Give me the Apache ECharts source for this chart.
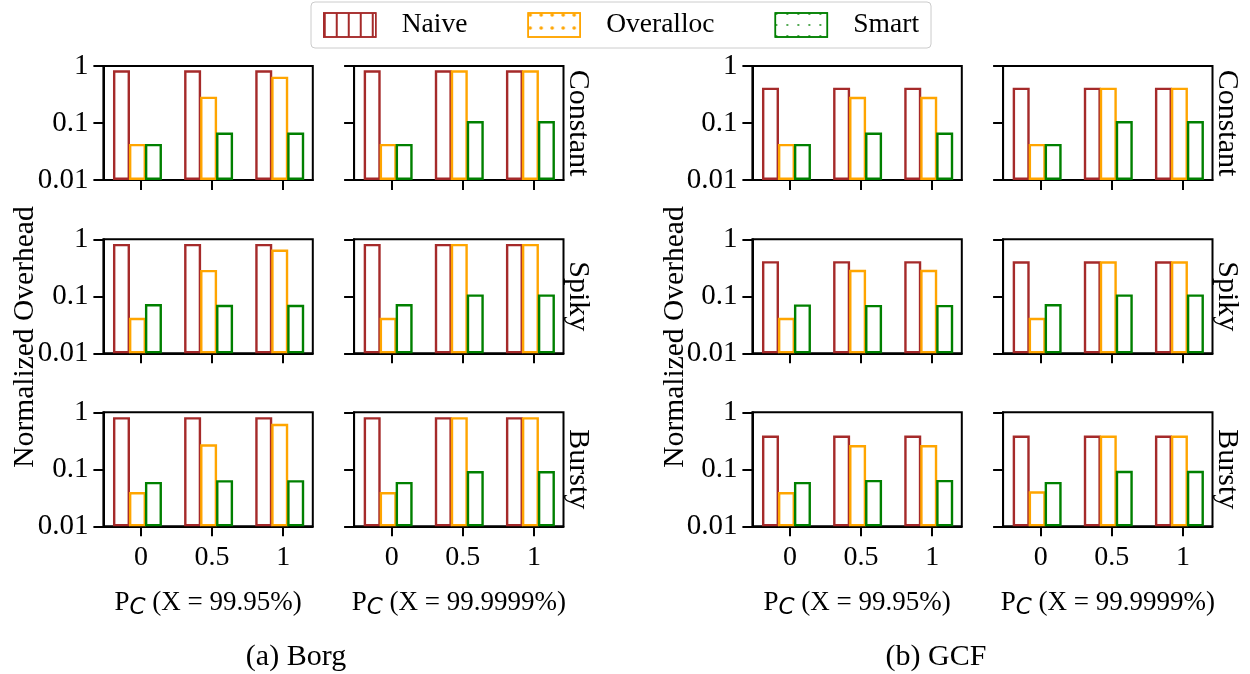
<!DOCTYPE html>
<html>
<head>
<meta charset="utf-8">
<script src="https://cdn.jsdelivr.net/npm/echarts@6/dist/echarts.min.js"></script>
<style>
html,body{margin:0;padding:0;background:#fff;}
#chart{width:1250px;height:674px;}
</style>
</head>
<body>
<div id="chart"></div>
<script>
// ---- data ----
const pcValues = [0, 0.5, 1];
const pcLabels = ['0', '0.5', '1'];
const yTicks = [0.01, 0.1, 1];
const yTickLabels = ['0.01', '0.1', '1'];
const workloads = ['Constant', 'Spiky', 'Bursty'];
const seriesNames = ['Naive', 'Overalloc', 'Smart'];
const panelTitles = ['(X = 99.95%)', '(X = 99.9999%)', '(X = 99.95%)', '(X = 99.9999%)'];
const captions = ['(a) Borg', '(b) GCF'];

// rows: Constant, Spiky, Bursty ; columns: P_C = 0, 0.5, 1
// Borg, X = 99.95%
const borg9995Naive = [[0.84, 0.84, 0.84], [0.83, 0.83, 0.83], [0.82, 0.82, 0.82]];
const borg9995Over  = [[0.043, 0.29, 0.65], [0.042, 0.29, 0.66], [0.040, 0.274, 0.63]];
const borg9995Smart = [[0.043, 0.068, 0.068], [0.073, 0.071, 0.071], [0.060, 0.0645, 0.0645]];
// Borg, X = 99.9999%
const borg999999Naive = [[0.84, 0.84, 0.84], [0.83, 0.83, 0.83], [0.82, 0.82, 0.82]];
const borg999999Over  = [[0.043, 0.84, 0.84], [0.042, 0.83, 0.83], [0.040, 0.82, 0.82]];
const borg999999Smart = [[0.043, 0.108, 0.108], [0.073, 0.108, 0.108], [0.060, 0.093, 0.093]];
// GCF, X = 99.95%
const gcf9995Naive = [[0.416, 0.416, 0.416], [0.414, 0.414, 0.414], [0.39, 0.39, 0.39]];
const gcf9995Over  = [[0.043, 0.289, 0.289], [0.042, 0.291, 0.291], [0.040, 0.267, 0.267]];
const gcf9995Smart = [[0.043, 0.068, 0.068], [0.072, 0.0705, 0.0705], [0.060, 0.065, 0.065]];
// GCF, X = 99.9999%
const gcf999999Naive = [[0.416, 0.416, 0.416], [0.41, 0.41, 0.41], [0.39, 0.39, 0.39]];
const gcf999999Over  = [[0.043, 0.416, 0.416], [0.042, 0.41, 0.41], [0.041, 0.39, 0.39]];
const gcf999999Smart = [[0.043, 0.108, 0.108], [0.073, 0.108, 0.108], [0.060, 0.094, 0.094]];

const panels = [
  [borg9995Naive, borg9995Over, borg9995Smart],
  [borg999999Naive, borg999999Over, borg999999Smart],
  [gcf9995Naive, gcf9995Over, gcf9995Smart],
  [gcf999999Naive, gcf999999Over, gcf999999Smart]
];

// ---- layout / style ----
const colors = ['#A52A2A', '#FFA500', '#008000'];
const FONT = 'Liberation Serif';
const FS = 29;
const colLeft = [103.4, 354.1, 752.4, 1003.1];
const colWidth = 209.4;
const rowTop = [66, 239.3, 412.3];
const rowHeight = 114;

const grids = [], xAxes = [], yAxes = [], series = [], graphics = [];
const fmtX = v => { const i = pcValues.indexOf(v); return i >= 0 ? pcLabels[i] : ''; };
const fmtY = v => {
  for (let i = 0; i < yTicks.length; i++) if (Math.abs(v - yTicks[i]) / yTicks[i] < 1e-6) return yTickLabels[i];
  return '';
};

for (let r = 0; r < 3; r++) {
  for (let p = 0; p < 4; p++) {
    const gi = grids.length;
    grids.push({left: colLeft[p], top: rowTop[r], width: colWidth, height: rowHeight,
      show: true, borderColor: '#000', borderWidth: 2, backgroundColor: 'transparent'});
    const xa = {
      type: 'value', gridIndex: gi, min: -0.264, max: 1.208,
      axisLine: {show: true, onZero: false, lineStyle: {color: '#000', width: 2}},
      axisTick: {show: true, customValues: pcValues, length: 10, lineStyle: {color: '#000', width: 2}},
      axisLabel: {show: r === 2, customValues: pcValues, formatter: fmtX, margin: 17,
        fontFamily: FONT, fontSize: 28, color: '#000'},
      splitLine: {show: false}
    };
    if (r === 2) {
      xa.name = '{p|P}{c|C}{p| ' + panelTitles[p] + '}';
      xa.nameLocation = 'middle';
      xa.nameGap = 60;
      xa.nameTextStyle = {rich: {
        p: {fontFamily: FONT, fontSize: 27, color: '#000', lineHeight: 34, verticalAlign: 'middle'},
        c: {fontFamily: 'DejaVu Sans', fontStyle: 'italic', fontSize: 23, color: '#000', lineHeight: 34,
            verticalAlign: 'middle', padding: [10, 0, 0, 0]}
      }};
    }
    xAxes.push(xa);
    yAxes.push({
      type: 'log', logBase: 10, gridIndex: gi, min: 0.01, max: 1, startValue: 0.01,
      axisLine: {show: true, onZero: false, lineStyle: {color: '#000', width: 2}},
      axisTick: {show: true, length: 10, lineStyle: {color: '#000', width: 2}},
      minorTick: {show: false},
      axisLabel: {show: p === 0 || p === 2, formatter: fmtY, margin: 15,
        fontFamily: FONT, fontSize: FS, color: '#000'},
      splitLine: {show: false}
    });
    for (let s = 0; s < 3; s++) {
      series.push({
        type: 'bar', name: seriesNames[s], xAxisIndex: gi, yAxisIndex: gi,
        barWidth: 17, barGap: '-6%', silent: true,
        data: pcValues.map((x, j) => [x, panels[p][s][r][j]]),
        itemStyle: {color: 'rgba(255,255,255,0)', borderColor: colors[s], borderWidth: 2.4}
      });
    }
    // spacer series to reproduce the group offset from the tick
    series.push({
      type: 'bar', name: 'spacer', xAxisIndex: gi, yAxisIndex: gi,
      barWidth: 8, barGap: '-6%', silent: true,
      data: pcValues.map((x, j) => [x, panels[p][0][r][j]]),
      itemStyle: {color: 'rgba(0,0,0,0)', borderWidth: 0}
    });
  }
}

// workload labels on the right
const rowLabelX = [578, 1227];
for (let g = 0; g < 2; g++) {
  for (let r = 0; r < 3; r++) {
    graphics.push({type: 'text', x: rowLabelX[g], y: rowTop[r] + rowHeight / 2, rotation: -Math.PI / 2,
      style: {text: workloads[r], font: '30px "' + FONT + '"', fill: '#000', align: 'center', verticalAlign: 'middle'}});
  }
}
// y-axis names
const yNameX = [25, 675];
for (let g = 0; g < 2; g++) {
  graphics.push({type: 'text', x: yNameX[g], y: 337, rotation: Math.PI / 2,
    style: {text: 'Normalized Overhead', font: '29.5px "' + FONT + '"', fill: '#000', align: 'center', verticalAlign: 'middle'}});
}
// captions
const capX = [296, 936];
for (let g = 0; g < 2; g++) {
  graphics.push({type: 'text', x: capX[g], y: 657,
    style: {text: captions[g], font: '30px "' + FONT + '"', fill: '#000', align: 'center', verticalAlign: 'middle'}});
}

const legendDecals = [
  {symbol: 'rect', symbolSize: 1, dashArrayX: [1.2, 10], dashArrayY: [10, 0], color: colors[0]},
  {symbol: 'circle', symbolSize: 0.9, dashArrayX: [4, 7], dashArrayY: [4, 9], color: colors[1]},
  {symbol: 'circle', symbolSize: 0.9, dashArrayX: [2, 9], dashArrayY: [2, 9], color: colors[2]}
];

const chart = echarts.init(document.getElementById('chart'), null, {renderer: 'canvas'});
chart.setOption({
  animation: false,
  backgroundColor: '#fff',
  legend: {
    data: seriesNames.map((n, i) => ({name: n, itemStyle: {color: '#fff', borderColor: colors[i], borderWidth: 1.5, decal: legendDecals[i]}})),
    left: 311, top: 2, itemWidth: 52, itemHeight: 24, itemGap: 60, icon: 'rect',
    padding: [9, 12], borderColor: '#ccc', borderWidth: 1, borderRadius: 4,
    selectedMode: false,
    textStyle: {fontFamily: FONT, fontSize: 27.5, color: '#000', padding: [0, 0, 0, 21]}
  },
  grid: grids, xAxis: xAxes, yAxis: yAxes, series: series, graphic: graphics
});
</script>
</body>
</html>
